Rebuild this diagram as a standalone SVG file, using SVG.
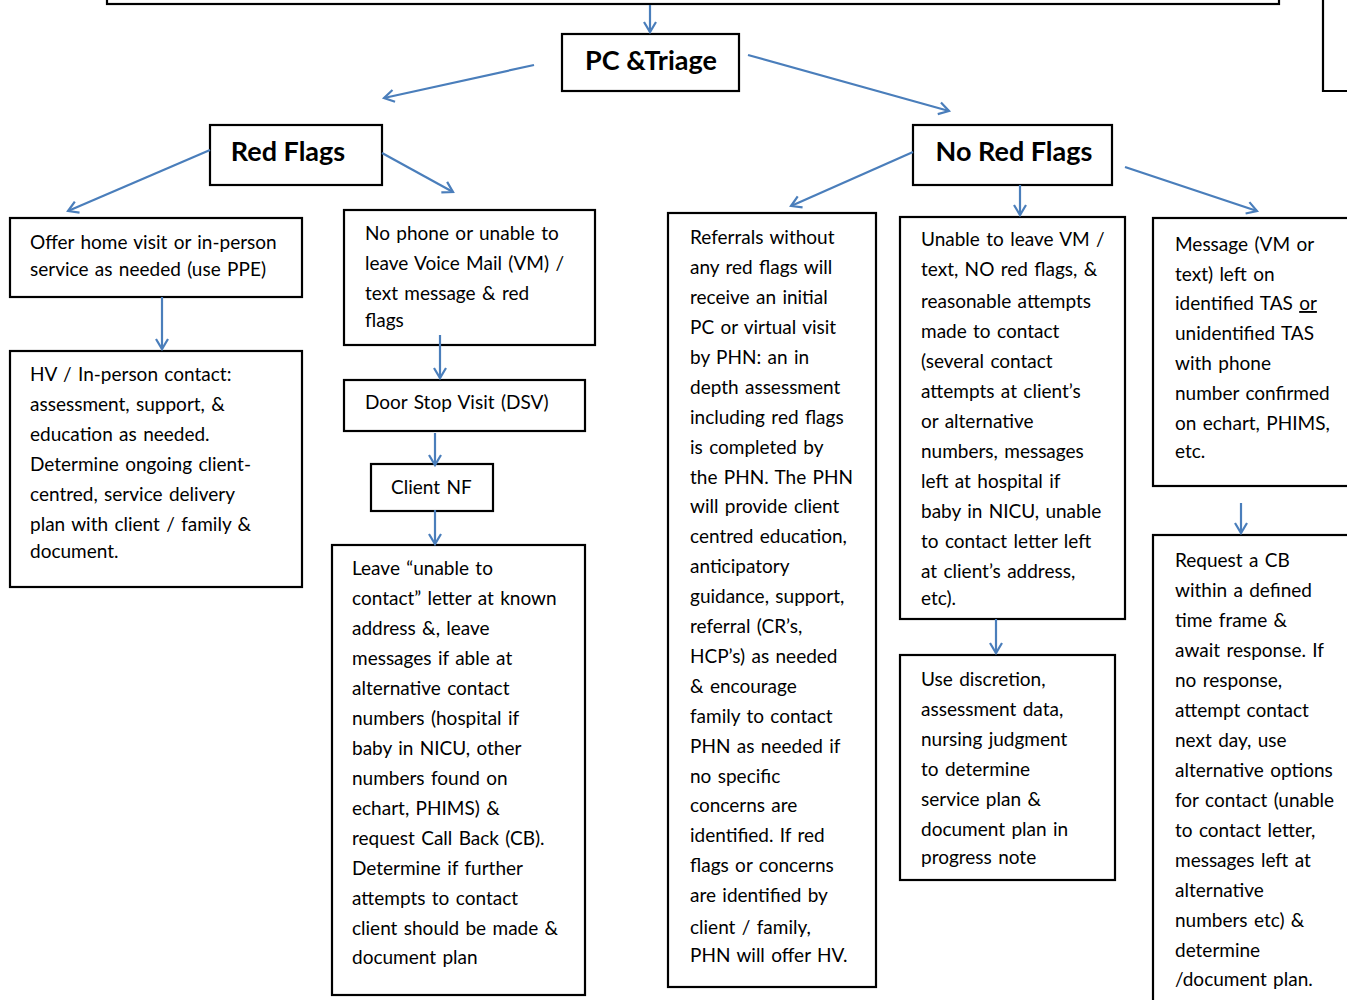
<svg xmlns="http://www.w3.org/2000/svg" width="1347" height="1000" viewBox="0 0 1347 1000">
<defs>
<marker id="ah" markerUnits="userSpaceOnUse" markerWidth="16" markerHeight="16" refX="12" refY="8" orient="auto">
<path d="M2,2 L12,8 L2,14" fill="none" stroke="#4A7EBB" stroke-width="2.2"/>
</marker>
<style>
.box{fill:#fff;stroke:#000;stroke-width:2.2}
.t{font-family:Lato,"Liberation Sans",sans-serif;font-size:19px;word-spacing:1.5px;fill:#000}
.h{font-family:Lato,"Liberation Sans",sans-serif;font-size:27px;font-weight:bold;fill:#000;text-anchor:middle}
.c{fill:none;stroke:#4A7EBB;stroke-width:2.2;marker-end:url(#ah)}
</style>
</defs>
<rect width="1347" height="1000" fill="#fff"/>

<g id="top-box"><rect class="box" x="107" y="-10" width="1172" height="14"/></g>
<g id="right-top-box"><path d="M1323,-2 L1323,91 L1349,91" fill="none" stroke="#000" stroke-width="2.2"/></g>

<g id="pc-triage"><rect class="box" x="562" y="34" width="177" height="57"/><text class="h" x="651" y="70">PC &amp;Triage</text></g>
<g id="red-flags"><rect class="box" x="210" y="125" width="172" height="60"/><text class="h" x="288" y="161">Red Flags</text></g>
<g id="no-red-flags"><rect class="box" x="913" y="125" width="199" height="60"/><text class="h" x="1014" y="161">No Red Flags</text></g>

<g id="offer-hv"><rect class="box" x="10" y="218" width="292" height="79"/>
<text class="t" x="30" y="249">Offer home visit or in-person</text>
<text class="t" x="30" y="276">service as needed (use PPE)</text></g>

<g id="hv-contact"><rect class="box" x="10" y="351" width="292" height="236"/>
<text class="t" x="30" y="381">HV / In-person contact:</text>
<text class="t" x="30" y="411">assessment, support, &amp;</text>
<text class="t" x="30" y="441">education as needed.</text>
<text class="t" x="30" y="471">Determine ongoing client-</text>
<text class="t" x="30" y="501">centred, service delivery</text>
<text class="t" x="30" y="531">plan with client / family &amp;</text>
<text class="t" x="30" y="558">document.</text></g>

<g id="no-phone"><rect class="box" x="344" y="210" width="251" height="135"/>
<text class="t" x="365" y="240">No phone or unable to</text>
<text class="t" x="365" y="270">leave Voice Mail (VM) /</text>
<text class="t" x="365" y="300">text message &amp; red</text>
<text class="t" x="365" y="327">flags</text></g>

<g id="dsv"><rect class="box" x="344" y="380" width="241" height="51"/>
<text class="t" x="365" y="409">Door Stop Visit (DSV)</text></g>

<g id="client-nf"><rect class="box" x="371" y="464" width="122" height="47"/>
<text class="t" x="391" y="494">Client NF</text></g>

<g id="leave-letter"><rect class="box" x="332" y="545" width="253" height="450"/>
<text class="t" x="352" y="575">Leave “unable to</text>
<text class="t" x="352" y="605">contact” letter at known</text>
<text class="t" x="352" y="635">address &amp;, leave</text>
<text class="t" x="352" y="665">messages if able at</text>
<text class="t" x="352" y="695">alternative contact</text>
<text class="t" x="352" y="725">numbers (hospital if</text>
<text class="t" x="352" y="755">baby in NICU, other</text>
<text class="t" x="352" y="785">numbers  found on</text>
<text class="t" x="352" y="815">echart, PHIMS) &amp;</text>
<text class="t" x="352" y="845">request Call Back (CB).</text>
<text class="t" x="352" y="875">Determine if further</text>
<text class="t" x="352" y="905">attempts to contact</text>
<text class="t" x="352" y="935">client should be made &amp;</text>
<text class="t" x="352" y="964">document plan</text></g>

<g id="referrals"><rect class="box" x="668" y="213" width="208" height="774"/>
<text class="t" x="690" y="244">Referrals without</text>
<text class="t" x="690" y="274">any red flags will</text>
<text class="t" x="690" y="304">receive an initial</text>
<text class="t" x="690" y="334">PC or virtual visit</text>
<text class="t" x="690" y="364">by PHN: an in</text>
<text class="t" x="690" y="394">depth assessment</text>
<text class="t" x="690" y="424">including red flags</text>
<text class="t" x="690" y="454">is completed by</text>
<text class="t" x="690" y="484">the PHN. The PHN</text>
<text class="t" x="690" y="513">will provide client</text>
<text class="t" x="690" y="543">centred education,</text>
<text class="t" x="690" y="573">anticipatory</text>
<text class="t" x="690" y="603">guidance, support,</text>
<text class="t" x="690" y="633">referral (CR’s,</text>
<text class="t" x="690" y="663">HCP’s) as needed</text>
<text class="t" x="690" y="693">&amp; encourage</text>
<text class="t" x="690" y="723">family to contact</text>
<text class="t" x="690" y="753">PHN as needed if</text>
<text class="t" x="690" y="783">no specific</text>
<text class="t" x="690" y="812">concerns are</text>
<text class="t" x="690" y="842">identified.  If red</text>
<text class="t" x="690" y="872">flags or concerns</text>
<text class="t" x="690" y="902">are identified by</text>
<text class="t" x="690" y="934">client / family,</text>
<text class="t" x="690" y="962">PHN will offer HV.</text></g>

<g id="unable-vm"><rect class="box" x="900" y="217" width="225" height="402"/>
<text class="t" x="921" y="246">Unable to leave VM /</text>
<text class="t" x="921" y="276">text, NO red flags, &amp;</text>
<text class="t" x="921" y="308">reasonable attempts</text>
<text class="t" x="921" y="338">made to contact</text>
<text class="t" x="921" y="368">(several contact</text>
<text class="t" x="921" y="398">attempts at client’s</text>
<text class="t" x="921" y="428">or alternative</text>
<text class="t" x="921" y="458">numbers, messages</text>
<text class="t" x="921" y="488">left at hospital if</text>
<text class="t" x="921" y="518">baby in NICU, unable</text>
<text class="t" x="921" y="548">to contact letter left</text>
<text class="t" x="921" y="578">at client’s address,</text>
<text class="t" x="921" y="605">etc).</text></g>

<g id="use-discretion"><rect class="box" x="900" y="655" width="215" height="225"/>
<text class="t" x="921" y="686">Use discretion,</text>
<text class="t" x="921" y="716">assessment data,</text>
<text class="t" x="921" y="746">nursing judgment</text>
<text class="t" x="921" y="776">to determine</text>
<text class="t" x="921" y="806">service plan &amp;</text>
<text class="t" x="921" y="836">document plan in</text>
<text class="t" x="921" y="864">progress note</text></g>

<g id="message-left"><rect class="box" x="1153" y="218" width="200" height="268"/>
<text class="t" x="1175" y="251">Message (VM or</text>
<text class="t" x="1175" y="281">text) left on</text>
<text class="t" x="1175" y="310">identified TAS <tspan text-decoration="underline">or</tspan></text>
<text class="t" x="1175" y="340">unidentified TAS</text>
<text class="t" x="1175" y="370">with phone</text>
<text class="t" x="1175" y="400">number confirmed</text>
<text class="t" x="1175" y="430">on echart, PHIMS,</text>
<text class="t" x="1175" y="458">etc.</text></g>

<g id="request-cb"><rect class="box" x="1153" y="535" width="200" height="480"/>
<text class="t" x="1175" y="567">Request a CB</text>
<text class="t" x="1175" y="597">within a defined</text>
<text class="t" x="1175" y="627">time frame &amp;</text>
<text class="t" x="1175" y="657">await response.  If</text>
<text class="t" x="1175" y="687">no response,</text>
<text class="t" x="1175" y="717">attempt contact</text>
<text class="t" x="1175" y="747">next day, use</text>
<text class="t" x="1175" y="777">alternative options</text>
<text class="t" x="1175" y="807">for contact (unable</text>
<text class="t" x="1175" y="837">to contact letter,</text>
<text class="t" x="1175" y="867">messages left at</text>
<text class="t" x="1175" y="897">alternative</text>
<text class="t" x="1175" y="927">numbers etc) &amp;</text>
<text class="t" x="1175" y="957">determine</text>
<text class="t" x="1175" y="986">/document plan.</text></g>

<g id="connectors">
<line class="c" x1="650" y1="5" x2="650" y2="32"/>
<line class="c" x1="534" y1="65" x2="384" y2="98"/>
<line class="c" x1="748" y1="55" x2="949" y2="111"/>
<line class="c" x1="210" y1="150" x2="68" y2="211"/>
<line class="c" x1="382" y1="153" x2="453" y2="192"/>
<line class="c" x1="913" y1="152" x2="791" y2="206"/>
<line class="c" x1="1020" y1="185" x2="1020" y2="215"/>
<line class="c" x1="1125" y1="167" x2="1257" y2="211"/>
<line class="c" x1="162" y1="297" x2="162" y2="349"/>
<line class="c" x1="440" y1="335" x2="440" y2="378"/>
<line class="c" x1="435" y1="433" x2="435" y2="465"/>
<line class="c" x1="435" y1="510" x2="435" y2="544"/>
<line class="c" x1="996" y1="619" x2="996" y2="653"/>
<line class="c" x1="1241" y1="503" x2="1241" y2="533"/>
</g>
</svg>
